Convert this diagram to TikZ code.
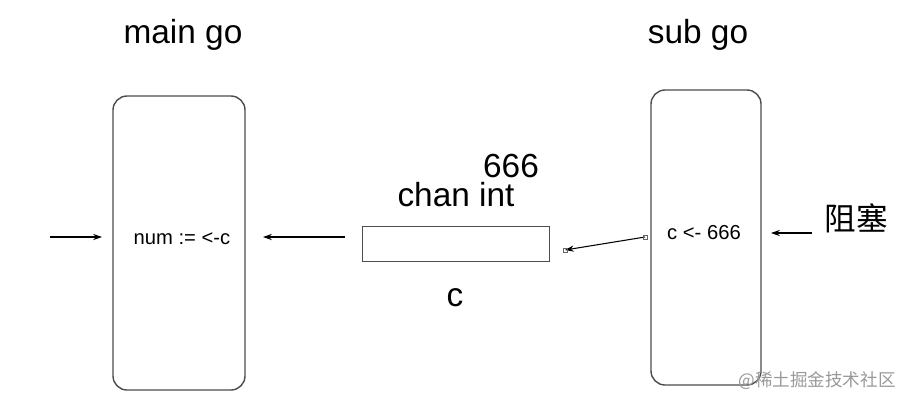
\documentclass[tikz,border=0pt]{standalone}
\usepackage{fontspec}
\setmainfont{Liberation Sans}
\newfontfamily\cjk{Noto Sans CJK SC}
\usetikzlibrary{arrows.meta,calc}

\begin{document}
\begin{tikzpicture}[x=0.02cm,y=-0.02cm,
    gobox/.style={draw=black!70,rounded corners=8pt,thick},
    big/.style={font=\fontsize{19}{21}\selectfont},
    small/.style={font=\fontsize{11.5}{13}\selectfont},
    arr/.style={-{Stealth[length=5pt,width=3.5pt]},semithick}]
    \useasboundingbox (0,0) rectangle (911,407);

    % Goroutines
    \node[big] (maintitle) at (183,35) {main go};
    \node[big] (subtitle) at (698,35) {sub go};
    \draw[gobox] (113,96) rectangle (245,390);
    \draw[gobox] (651,90) rectangle (761,385);
    \node[small] (recv) at (182,239) {num := <-c};
    \node[small] (send) at (704,233) {c <- 666};

    % Channel
    \draw[black!70] (362,226) rectangle (549,261);
    \node[big] (val) at (511,166) {666};
    \node[big] (chtype) at (456,195) {chan int};
    \node[big] (chname) at (455,298) {c};

    % Arrows
    \coordinate (inL) at (50,237);
    \coordinate (inR) at (102,237);
    \coordinate (chL) at (345,237);
    \coordinate (mainR) at (263,237);
    \coordinate (subL) at (645,237);
    \coordinate (chR) at (565,250);
    \coordinate (blkL) at (812,233);
    \coordinate (blkR) at (771,233);
    \draw[arr] (inL) -- (inR);
    \draw[arr] (chL) -- (mainR);
    \draw[arr] (subL) -- (chR);
    \draw[black!60] ($(subL)+(-2,-2)$) rectangle ++(4,4);
    \draw[black!60] ($(chR)+(-2,-2)$) rectangle ++(4,4);
    \draw[arr] (blkL) -- (blkR);
    \node[font=\cjk\fontsize{18}{20}\selectfont] (block) at (856,218) {阻塞};

    % Watermark
    \node[text=black!40,font=\cjk\fontsize{10}{12}\selectfont] (mark) at (817,381) {@稀土掘金技术社区};
\end{tikzpicture}
\end{document}
